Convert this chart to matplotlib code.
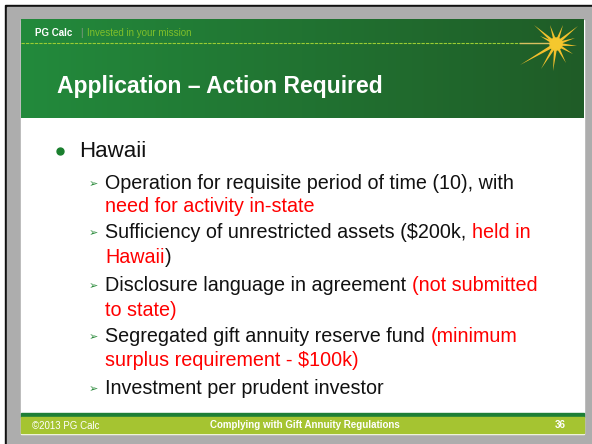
import numpy as np
import matplotlib.pyplot as plt
from matplotlib.patches import Rectangle, Polygon, Circle
from matplotlib.colors import LinearSegmentedColormap

# slide text
header_brand = "PG Calc"
header_tag = "Invested in your mission"
title = "Application \u2013 Action Required"
main_bullet = "Hawaii"
# each sub-bullet: list of lines, each line a list of (text, colour) pieces
sub_bullets = [
    [[("Operation for requisite period of time (10), with", "k")],
     [("need for activity in-state", "red")]],
    [[("Sufficiency of unrestricted assets ($200k, ", "k"), ("held in", "red")],
     [("Hawaii", "red"), (")", "k")]],
    [[("Disclosure language in agreement ", "k"), ("(not submitted", "red")],
     [("to state)", "red")]],
    [[("Segregated gift annuity reserve fund ", "k"), ("(minimum", "red")],
     [("surplus requirement - $100k)", "red")]],
    [[("Investment per prudent investor", "k")]],
]
footer_left = "\u00a92013 PG Calc"
footer_mid = "Complying with Gift Annuity Regulations"
footer_right = "36"

# star ray end points (px)
star_center = (556, 44)
ray_ends = [(534, 25), (550, 25), (563, 25), (578, 26), (575, 38), (577, 46),
            (573, 54), (566, 63), (553, 71), (541, 69), (520, 65), (540, 36)]

plt.rcParams['font.family'] = ['Liberation Sans', 'DejaVu Sans']

fig = plt.figure(figsize=(5.92, 4.44), dpi=100)
ax = fig.add_axes([0, 0, 1, 1])

# outer frame
ax.add_patch(Rectangle((0, 0), 592, 444, color="#ffffff", zorder=0))
ax.add_patch(Rectangle((5, 5), 587, 439, color="#111111", zorder=0))
ax.add_patch(Rectangle((7, 7), 585, 437, color="#adadad", zorder=0))
ax.add_patch(Rectangle((21, 20), 563, 414, color="#ffffff", zorder=1))

# header gradient
grad = np.linspace(0, 1, 256).reshape(1, -1)
cmap = LinearSegmentedColormap.from_list("hdr", ["#238a3c", "#1f5c27"])
ax.imshow(grad, cmap=cmap, extent=(21, 584, 118, 20), aspect="auto", zorder=2)
ax.set_xlim(0, 592)
ax.set_ylim(444, 0)
ax.axis("off")

ax.plot([21, 520], [43.5, 43.5], color="#9acd32", lw=0.8, ls=(0, (3, 1)), zorder=3)
ax.plot([520, 550], [43.5, 43.5], color="#d8c060", lw=1.0, zorder=3)

# star: tapered rays
cx, cy = star_center
for ex, ey in ray_ends:
    d = np.array([ex - cx, ey - cy], float)
    n = np.array([-d[1], d[0]]) / np.hypot(*d)
    w = 1.8
    ax.add_patch(Polygon([(cx + n[0] * w, cy + n[1] * w), (ex, ey),
                          (cx - n[0] * w, cy - n[1] * w)],
                         closed=True, color="#f3c02c", lw=0, zorder=4))
ax.add_patch(Circle((cx, cy), 6, color="#f5c82e", zorder=5))

ax.text(35, 33, header_brand, color="white", fontsize=7, fontweight="bold",
        va="center", zorder=5)
ax.text(80, 33, "|", color="#8a9a8a", fontsize=7, va="center", zorder=5)
ax.text(87, 33, header_tag, color="#7fbf2a", fontsize=7, va="center", zorder=5)

ax.text(57, 86, title, color="white", fontsize=16.5, fontweight="bold",
        va="center", zorder=5)

# body
ax.plot(60, 151, "o", color="#1a7f2e", ms=5, zorder=5)
ax.text(79, 151, main_bullet, fontsize=16, va="center", color="#111111", zorder=5)

line_y = [[183, 206], [232, 257], [285, 310], [336, 360], [388]]
for bullet, ys in zip(sub_bullets, line_y):
    ax.text(93, ys[0] + 1, "\u27a2", fontsize=8, color="#2a8a3a",
            ha="center", va="center", family=["DejaVu Sans"], zorder=5)
    for line, y in zip(bullet, ys):
        prev = None
        for piece, col in line:
            c = "#111111" if col == "k" else col
            if prev is None:
                prev = ax.text(105, y, piece, fontsize=14.2, color=c,
                               va="center", zorder=5)
            else:
                prev = ax.annotate(piece, xy=(1, 0), xycoords=prev, va="bottom",
                                   fontsize=14.2, color=c, zorder=5)

# footer
ax.add_patch(Rectangle((21, 413), 563, 3.5, color="#1e7f36", zorder=3))
ax.add_patch(Rectangle((21, 416.5), 563, 16.5, color="#a5c431", zorder=3))
ax.text(32, 426, footer_left, color="white", fontsize=7, va="center", zorder=5)
ax.text(305, 425, footer_mid, color="white", fontsize=7, fontweight="bold",
        ha="center", va="center", zorder=5)
ax.text(566, 425, footer_right, color="white", fontsize=7, fontweight="bold",
        ha="right", va="center", zorder=5)

fig.savefig("out.png", dpi=100)
